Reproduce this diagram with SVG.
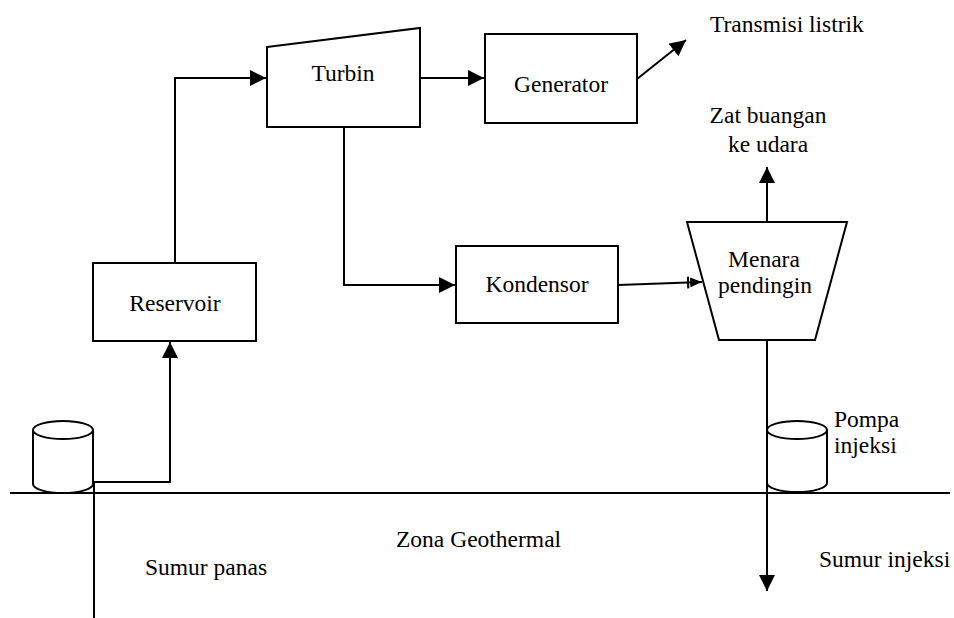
<svg xmlns="http://www.w3.org/2000/svg" width="954" height="618" viewBox="0 0 954 618">
<style>
.n{fill:#fff;stroke:#000;stroke-width:2}
.c{fill:none;stroke:#000;stroke-width:2}
text{font-family:Liberation Serif,serif;font-size:23.5px;fill:#000}
.m{text-anchor:middle}
</style>
<defs>
<marker id="a" viewBox="0 0 10 10" refX="10" refY="5" markerWidth="16" markerHeight="16" markerUnits="userSpaceOnUse" orient="auto"><path d="M0,0L10,5L0,10Z" fill="#000"/></marker>
<marker id="b" viewBox="0 0 14 12" refX="14" refY="6" markerWidth="15" markerHeight="13" markerUnits="userSpaceOnUse" orient="auto"><path d="M1,0.5V11.5" stroke="#000" stroke-width="2"/><path d="M3,1.5L14,6L3,10.5Z" fill="#000"/></marker>
</defs>
<rect width="954" height="618" fill="#fff"/>
<g id="ground"><line class="c" x1="10" y1="493" x2="950" y2="493"/></g>
<g id="connectors">
<polyline class="c" points="94,618 94,482 170,482 170,342" marker-end="url(#a)"/>
<polyline class="c" points="175,263 175,78 266,78" marker-end="url(#a)"/>
<line class="c" x1="420" y1="78" x2="484" y2="78" marker-end="url(#a)"/>
<line class="c" x1="637" y1="79" x2="686" y2="40" marker-end="url(#a)"/>
<polyline class="c" points="344,127 344,285 455,285" marker-end="url(#a)"/>
<line class="c" x1="618" y1="285" x2="702" y2="282" marker-end="url(#b)"/>
<line class="c" x1="767" y1="222" x2="767" y2="167" marker-end="url(#a)"/>
<line class="c" x1="767" y1="340" x2="767" y2="591" marker-end="url(#a)"/>
</g>
<g id="sumur-panas">
<path class="n" d="M33,430V484A30,9 0 0 0 93,484V430"/>
<ellipse class="n" cx="63" cy="430" rx="30" ry="9"/>
</g>
<g id="pompa-injeksi">
<path class="n" d="M767,430V483A30,9 0 0 0 827,483V430"/>
<ellipse class="n" cx="797" cy="430" rx="30" ry="9"/>
<line class="c" x1="767" y1="420" x2="767" y2="493"/>
</g>
<g id="reservoir">
<rect class="n" x="93" y="263" width="163" height="78"/>
<text class="m" x="175" y="311" font-family="Liberation Serif">Reservoir</text>
</g>
<g id="turbin">
<polygon class="n" points="267,47 420,28 420,127 267,127"/>
<text class="m" x="343" y="81" font-family="Liberation Serif">Turbin</text>
</g>
<g id="generator">
<rect class="n" x="485" y="34" width="152" height="89"/>
<text class="m" x="561" y="92" font-family="Liberation Serif">Generator</text>
</g>
<g id="kondensor">
<rect class="n" x="456" y="246" width="162" height="77"/>
<text class="m" x="537" y="292" font-family="Liberation Serif">Kondensor</text>
</g>
<g id="menara-pendingin">
<polygon class="n" points="687,222 847,222 815,340 719,340"/>
<text class="m" x="764" y="267" font-family="Liberation Serif">Menara</text>
<text class="m" x="765" y="293" font-family="Liberation Serif">pendingin</text>
</g>
<g id="labels">
<text x="710" y="32" font-family="Liberation Serif">Transmisi listrik</text>
<text class="m" x="768" y="123" font-family="Liberation Serif">Zat buangan</text>
<text class="m" x="768" y="152" font-family="Liberation Serif">ke udara</text>
<text x="834" y="427" font-family="Liberation Serif">Pompa</text>
<text x="834" y="453" font-family="Liberation Serif">injeksi</text>
<text x="396" y="547" font-family="Liberation Serif">Zona Geothermal</text>
<text x="145" y="575" font-family="Liberation Serif">Sumur panas</text>
<text x="819" y="567" font-family="Liberation Serif">Sumur injeksi</text>
</g>
</svg>
